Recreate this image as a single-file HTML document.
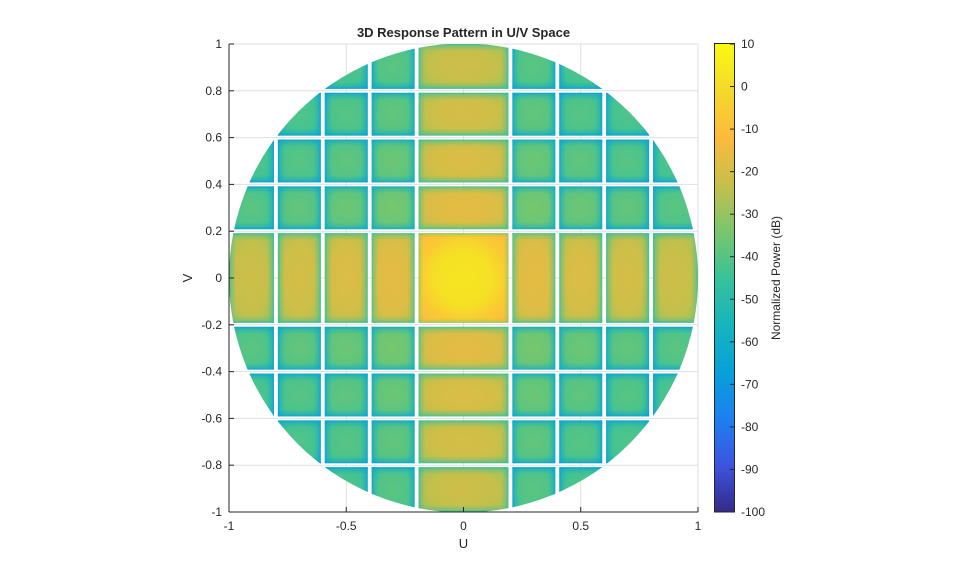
<!DOCTYPE html>
<html><head><meta charset="utf-8"><style>
html,body{margin:0;padding:0;background:#fff;}
svg text{font-family:"Liberation Sans",Arial,sans-serif;fill:#262626;}
</style></head><body>
<svg id="s" width="959" height="577" xmlns="http://www.w3.org/2000/svg"></svg>
<script>
const P=[[0,[0.2081,0.1663,0.5292]],[0.1,[0.24,0.33,0.88]],[0.2,[0.11,0.50,0.95]],[0.3,[0.03,0.63,0.85]],[0.4,[0.09,0.71,0.74]],[0.5,[0.22,0.76,0.60]],[0.6,[0.48,0.78,0.42]],[0.7,[0.78,0.75,0.29]],[0.8,[0.99,0.73,0.24]],[0.9,[0.96,0.85,0.17]],[1,[0.976,0.984,0.055]]];
function par(t){t=Math.max(0,Math.min(1,t));for(let i=0;i<P.length-1;i++){if(t<=P[i+1][0]){const a=P[i],b=P[i+1],f=(t-a[0])/(b[0]-a[0]);const c=a[1].map((v,k)=>Math.round(255*(v+(b[1][k]-v)*f)));return `rgb(${c})`;}}return 'rgb(249,251,14)';}
const X=u=>463.5+234.5*u, Y=v=>278-234*v;
let h='<defs><clipPath id="c"><circle cx="463.5" cy="278" r="234.5"/></clipPath>';
let body='';
let g='';
for(let u=-1;u<=1.001;u+=0.5)g+=`<line x1="${X(u)}" y1="44" x2="${X(u)}" y2="512" stroke="#dfdfdf"/>`;
for(let v=-1;v<=1.001;v+=0.2)g+=`<line x1="229" y1="${Y(v)}" x2="698" y2="${Y(v)}" stroke="#dfdfdf"/>`;
g+=`<line x1="698" y1="44" x2="698" y2="512" stroke="#dfdfdf"/><line x1="229" y1="44" x2="698" y2="44" stroke="#dfdfdf"/>`;
const edges=[-1,-0.8,-0.6,-0.4,-0.2,0.2,0.4,0.6,0.8,1];
const f=[0,1.9,2.1,2.25,2.4];
let id=0,cells='';
function edgeGrad(name,col,horiz,w){
 const a=horiz?'x1="0" y1="0" x2="1" y2="0"':'x1="0" y1="0" x2="0" y2="1"';
 return `<linearGradient id="${name}" ${a}><stop offset="0" stop-color="${col}" stop-opacity="0.9"/><stop offset="${w*0.35}" stop-color="${col}" stop-opacity="0.35"/><stop offset="${w}" stop-color="${col}" stop-opacity="0"/><stop offset="${1-w}" stop-color="${col}" stop-opacity="0"/><stop offset="${1-w*0.35}" stop-color="${col}" stop-opacity="0.35"/><stop offset="1" stop-color="${col}" stop-opacity="0.9"/></linearGradient>`;
}
for(let i=0;i<9;i++)for(let j=0;j<9;j++){
 const u0=edges[i],u1=edges[i+1],v0=edges[j],v1=edges[j+1];
 const cu=(u0+u1)/2,cv=(v0+v1)/2;
 const iu=Math.abs(cu)<0.01?0:Math.round((Math.abs(cu)-0.2)/0.2+0.5);
 const iv=Math.abs(cv)<0.01?0:Math.round((Math.abs(cv)-0.2)/0.2+0.5);
 const t=0.92-0.085*(f[iu]+f[iv]);
 let x0=X(u0)+2,x1=X(u1)-2,y0=Y(v1)+2,y1=Y(v0)-2;
 if(u0==-1)x0=X(-1);if(u1==1)x1=X(1);if(v1==1)y0=Y(1);if(v0==-1)y1=Y(-1);
 const R=`x="${x0}" y="${y0}" width="${x1-x0}" height="${y1-y0}"`;
 if(iu==0&&iv==0){
  h+=`<radialGradient id="m" cx="0.5" cy="0.5" r="0.7"><stop offset="0" stop-color="${par(0.935)}"/><stop offset="0.45" stop-color="${par(0.92)}"/><stop offset="0.72" stop-color="${par(0.85)}"/><stop offset="1" stop-color="${par(0.8)}"/></radialGradient>`;
  h+=edgeGrad('mh',par(0.6),true,0.05)+edgeGrad('mv',par(0.6),false,0.05);
  cells+=`<rect ${R} fill="url(#m)"/><rect ${R} fill="url(#mh)"/><rect ${R} fill="url(#mv)"/>`;
 } else {
  const ec=par(Math.max(0.3,t-0.25));
  h+=edgeGrad('h'+id,ec,true,Math.min(0.3,7/(x1-x0)))+edgeGrad('v'+id,ec,false,Math.min(0.3,7/(y1-y0)));
  h+=`<radialGradient id="r${id}" cx="0.5" cy="0.5" r="0.65"><stop offset="0" stop-color="${par(t)}"/><stop offset="0.6" stop-color="${par(t-0.02)}"/><stop offset="1" stop-color="${par(t-0.07)}"/></radialGradient>`;
  cells+=`<rect ${R} fill="url(#r${id})"/><rect ${R} fill="url(#h${id})"/><rect ${R} fill="url(#v${id})"/>`;
 }
 id++;
}
let cb='<linearGradient id="cb" x1="0" y1="1" x2="0" y2="0">';
for(let k=0;k<=20;k++)cb+=`<stop offset="${k/20}" stop-color="${par(k/20)}"/>`;
cb+='</linearGradient>';
h+=cb+'</defs>';
body+=g+`<g clip-path="url(#c)">${cells}</g>`;
body+=`<line x1="229" y1="44" x2="229" y2="512" stroke="#262626"/><line x1="229" y1="512" x2="698" y2="512" stroke="#262626"/>`;
[-1,-0.5,0,0.5,1].forEach(u=>{body+=`<line x1="${X(u)}" y1="512" x2="${X(u)}" y2="507" stroke="#262626"/><text x="${X(u)}" y="530" font-size="12" text-anchor="middle">${u}</text>`;});
for(let k=-5;k<=5;k++){const v=k/5;body+=`<line x1="229" y1="${Y(v)}" x2="234" y2="${Y(v)}" stroke="#262626"/><text x="222" y="${Y(v)+4}" font-size="12" text-anchor="end">${+v.toFixed(1)}</text>`;}
body+=`<text x="463.5" y="548" font-size="13" text-anchor="middle">U</text>`;
body+=`<text x="192" y="278" font-size="13" text-anchor="middle" transform="rotate(-90 192 278)">V</text>`;
body+=`<text x="463.5" y="37" font-size="13" font-weight="bold" text-anchor="middle">3D Response Pattern in U/V Space</text>`;
body+=`<rect x="714.5" y="43.5" width="20" height="468.5" fill="url(#cb)" stroke="#262626"/>`;
for(let v=10;v>=-100;v-=10){const y=44+(10-v)/110*468;body+=`<line x1="730" y1="${y}" x2="734" y2="${y}" stroke="#262626"/><text x="741" y="${y+4}" font-size="12">${v}</text>`;}
body+=`<text x="780" y="278" font-size="12" text-anchor="middle" transform="rotate(-90 780 278)">Normalized Power (dB)</text>`;
document.getElementById('s').innerHTML=h+body;
</script>
</body></html>
